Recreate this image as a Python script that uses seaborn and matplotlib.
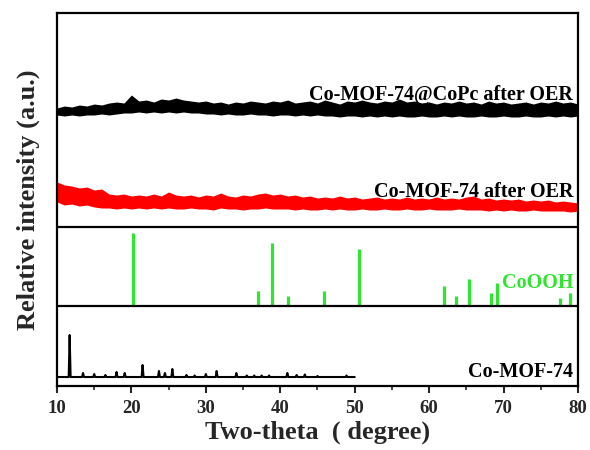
import numpy as np
import pandas as pd
import matplotlib
matplotlib.use("Agg")
import matplotlib.pyplot as plt
import seaborn as sns

# ---------------- data ----------------
# two-theta scan grid for the measured (noisy) patterns, 1 degree steps
scan_x = list(range(10, 81))

# Co-MOF-74@CoPc after OER: upper / lower edges of the noisy trace (a.u.)
cocpc_top = [278, 280, 279, 281, 280, 282, 281, 283, 284, 283,
             291, 285, 286, 284, 287, 286, 288, 286, 285, 284,
             285, 283, 284, 282, 284, 283, 285, 284, 283, 285,
             284, 286, 283, 284, 285, 283, 286, 284, 282, 285,
             284, 286, 284, 283, 285, 284, 287, 284, 285, 283,
             284, 282, 284, 283, 285, 283, 284, 282, 285, 283,
             284, 282, 283, 284, 282, 284, 283, 285, 283, 284,
             282]
cocpc_bot = [271, 270, 271, 270, 271, 271, 272, 271, 272, 273,
             273, 274, 273, 274, 273, 274, 273, 274, 273, 273,
             272, 272, 271, 272, 271, 271, 272, 271, 271, 270,
             271, 271, 270, 271, 270, 271, 270, 270, 269, 270,
             270, 269, 270, 269, 270, 269, 270, 269, 269, 270,
             269, 269, 270, 269, 270, 269, 269, 270, 269, 269,
             270, 269, 269, 270, 269, 269, 270, 269, 270, 269,
             270]

# Co-MOF-74 after OER: upper / lower edges of the noisy trace (a.u.)
mof_oer_top = [204, 201, 200, 198, 199, 196, 197, 192, 191, 192,
               190, 191, 190, 192, 190, 194, 191, 190, 191, 189,
               191, 190, 193, 190, 189, 191, 190, 192, 193, 191,
               192, 190, 191, 189, 190, 188, 189, 188, 190, 188,
               189, 187, 188, 189, 187, 188, 187, 189, 187, 188,
               187, 189, 187, 188, 187, 189, 190, 187, 188, 186,
               187, 186, 187, 185, 186, 185, 186, 184, 185, 184,
               183]
mof_oer_bot = [184, 181, 182, 180, 181, 179, 178, 178, 177, 178,
               177, 178, 177, 178, 177, 178, 177, 177, 178, 177,
               177, 176, 178, 177, 177, 176, 177, 177, 178, 177,
               177, 177, 176, 177, 176, 176, 177, 176, 177, 176,
               176, 177, 176, 176, 177, 176, 176, 177, 176, 176,
               177, 176, 176, 176, 177, 176, 176, 176, 175, 176,
               175, 176, 175, 175, 176, 175, 175, 175, 175, 174,
               175]

# CoOOH reference pattern (stick positions / relative heights)
cooh_pos = [20.17, 36.96, 38.84, 41.08, 45.83, 50.57, 61.95, 63.56,
            65.35, 68.31, 69.12, 77.54, 78.88]
cooh_int = [73, 15, 63, 10, 15, 57, 20, 10, 27, 13, 23, 8, 13]
cooh_base = 80

# simulated Co-MOF-74 pattern (peak positions / heights), range 10-50
mof_pos = [11.7, 13.5, 15.0, 16.5, 18.0, 19.1, 21.5, 23.7, 24.5, 25.5,
           27.4, 28.5, 30.0, 31.45, 34.1, 35.5, 36.5, 37.5, 38.5, 40.95,
           42.2, 43.3, 45.0, 48.9]
mof_int = [42, 4, 3, 2, 5, 4, 12, 6, 4, 8,
           2, 1.5, 3, 6, 4, 1.5, 1.5, 1.5, 1.5, 4,
           2, 2.5, 1, 1.5]
mof_base = 9
mof_range = [10, 50]

separators = [80, 159]

labels = ["Co-MOF-74@CoPc after OER", "Co-MOF-74 after OER", "CoOOH", "Co-MOF-74"]
label_y = [286, 189, 98, 9]
label_colors = ["black", "black", "#2EE62E", "black"]

x_ticks = [10, 20, 30, 40, 50, 60, 70, 80]

# ---------------- plot ----------------
sns.set_theme(style="ticks")
plt.rcParams["font.family"] = ["Liberation Serif", "DejaVu Serif"]
plt.rcParams["font.weight"] = "bold"

fig = plt.figure(figsize=(5.9, 4.5), dpi=100)
ax = fig.add_axes([0.0966, 0.1422, 0.883, 0.8289])

ax.fill_between(scan_x, cocpc_bot, cocpc_top, color="black", lw=0)
ax.fill_between(scan_x, mof_oer_bot, mof_oer_top, color="#FF0000", lw=0)

# CoOOH sticks
ax.vlines(cooh_pos, cooh_base, [cooh_base + v for v in cooh_int],
          color="#2EE62E", lw=2.3)

# Co-MOF-74 simulated profile from the peak table
w = 0.13
px, py = [mof_range[0]], [mof_base]
for p, h in zip(mof_pos, mof_int):
    px += [p - w, p, p + w]
    py += [mof_base, mof_base + h, mof_base]
px.append(mof_range[1])
py.append(mof_base)
df = pd.DataFrame({"x": px, "y": py})
sns.lineplot(data=df, x="x", y="y", ax=ax, color="black", lw=1.5,
             estimator=None, sort=False)

for yv in separators:
    ax.axhline(yv, color="black", lw=1.6)

for t, yv, c in zip(labels, label_y, label_colors):
    ax.text(79.35, yv, t, ha="right", va="baseline", fontsize=14.5,
            fontweight="bold", color=c)

ax.set_xlim(10, 80)
ax.set_ylim(0, 373)
ax.set_xticks(x_ticks)
ax.set_xticks(list(range(15, 80, 10)), minor=True)
ax.set_yticks([])
ax.tick_params(axis="x", which="major", direction="out", length=5, width=1.5,
               labelsize=13.5, pad=5)
ax.tick_params(axis="x", which="minor", direction="out", length=3, width=1.2)
for lab in ax.get_xticklabels():
    lab.set_fontweight("bold")
for s in ax.spines.values():
    s.set_linewidth(1.6)
    s.set_color("black")

ax.set_xlabel("Two-theta  ( degree)", fontsize=19, fontweight="bold", labelpad=3)
ax.set_ylabel("Relative intensity (a.u.)", fontsize=19, fontweight="bold")
ax.yaxis.set_label_coords(-0.033, 0.5)

fig.savefig("out.png", dpi=100)
